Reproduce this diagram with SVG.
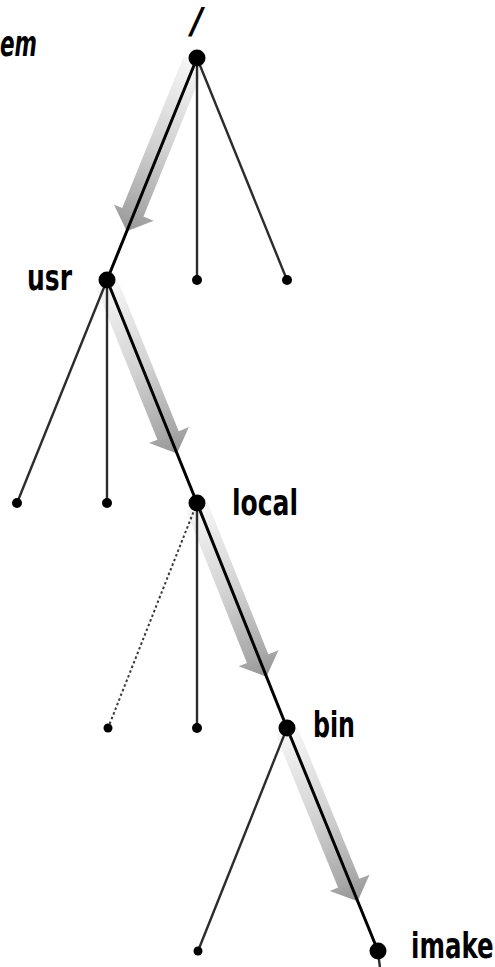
<svg xmlns="http://www.w3.org/2000/svg" width="495" height="967" viewBox="0 0 495 967">
  <style>
    .lbl { font-family: "DejaVu Sans", "Liberation Sans", sans-serif; font-stretch: condensed; font-weight: bold; font-size: 36px; fill: #000; }
    .path { stroke: #000; stroke-width: 3; fill: none; stroke-linecap: round; }
    .edge { stroke: #2c2c2c; stroke-width: 2.4; fill: none; }
    .dotted { stroke: #3a3a3a; stroke-width: 2; fill: none; stroke-dasharray: 2.5 2.5; }
    .dir-band { fill: url(#bandShade); }
    .big { fill: #000; }
    .leaf { fill: #000; }
  </style>
  <defs>
    <!-- shading along the traversal arrows: pale at the tail, mid grey at the head -->
    <linearGradient id="bandShade" x1="0" y1="0" x2="1" y2="0">
      <stop offset="0" stop-color="#f6f6f6"/>
      <stop offset="0.5" stop-color="#d2d2d2"/>
      <stop offset="0.88" stop-color="#a8a8a8"/>
      <stop offset="1" stop-color="#969696"/>
    </linearGradient>
    <!-- broad shaded arrow drawn along +x, tip at x=187 -->
    <path id="travArrow" class="dir-band" d="M3,-10 L167,-10 L167,-21 L187,0 L167,22 L167,13 L3,13 Z"/>
  </defs>

  <!-- traversal arrows (under the tree lines) -->
  <g id="traversal">
    <use href="#travArrow" transform="translate(197,58) rotate(112.07)"/>
    <use href="#travArrow" transform="translate(107,280) rotate(68.03)"/>
    <use href="#travArrow" transform="translate(197,503) rotate(68.2)"/>
    <use href="#travArrow" transform="translate(287,728) rotate(67.8)"/>
  </g>

  <!-- connectors -->
  <g id="connectors">
    <line class="path" x1="197" y1="58" x2="107" y2="280"/>
    <line class="edge" x1="197" y1="58" x2="197" y2="280"/>
    <line class="edge" x1="197" y1="58" x2="287" y2="280"/>

    <line class="edge" x1="107" y1="280" x2="17" y2="503"/>
    <line class="edge" x1="107" y1="280" x2="107" y2="503"/>
    <line class="path" x1="107" y1="280" x2="197" y2="503"/>

    <line class="dotted" x1="197" y1="503" x2="108" y2="728"/>
    <line class="edge" x1="197" y1="503" x2="197" y2="728"/>
    <line class="path" x1="197" y1="503" x2="287" y2="728"/>

    <line class="edge" x1="287" y1="728" x2="198" y2="951"/>
    <line class="path" x1="287" y1="728" x2="378" y2="951"/>

    <line class="edge" x1="378" y1="951" x2="380" y2="968"/>
  </g>

  <!-- caption fragment -->
  <text class="lbl" x="0" y="56" font-style="italic" textLength="37" lengthAdjust="spacingAndGlyphs">em</text>

  <!-- nodes -->
  <g id="root">
    <text class="lbl" x="197" y="33" text-anchor="middle" font-style="italic" font-weight="normal">/</text>
    <circle class="big" cx="197" cy="58" r="8.5"/>
  </g>
  <g id="usr">
    <circle class="big" cx="107" cy="280" r="8.5"/>
    <text class="lbl" x="27" y="290" textLength="45" lengthAdjust="spacingAndGlyphs">usr</text>
  </g>
  <g id="leaf-1-mid"><circle class="leaf" cx="197" cy="280" r="5"/></g>
  <g id="leaf-1-right"><circle class="leaf" cx="287" cy="280" r="5"/></g>

  <g id="leaf-2-left"><circle class="leaf" cx="17" cy="503" r="5"/></g>
  <g id="leaf-2-mid"><circle class="leaf" cx="107" cy="503" r="5"/></g>
  <g id="local">
    <circle class="big" cx="197" cy="503" r="8.5"/>
    <text class="lbl" x="232" y="515" textLength="66" lengthAdjust="spacingAndGlyphs">local</text>
  </g>

  <g id="leaf-3-left"><circle class="leaf" cx="108" cy="728" r="4.5"/></g>
  <g id="leaf-3-mid"><circle class="leaf" cx="197" cy="728" r="5"/></g>
  <g id="bin">
    <circle class="big" cx="287" cy="728" r="8.5"/>
    <text class="lbl" x="313" y="737" textLength="42" lengthAdjust="spacingAndGlyphs">bin</text>
  </g>

  <g id="leaf-4-left"><circle class="leaf" cx="198" cy="951" r="4.5"/></g>
  <g id="imake">
    <circle class="big" cx="378" cy="951" r="8.5"/>
    <!-- narrowed horizontally so the label stays inside the right margin -->
    <text class="lbl" transform="translate(411,958) scale(0.68,1)" x="0" y="0" font-size="33" style="font-stretch: normal">imake</text>
  </g>
</svg>
